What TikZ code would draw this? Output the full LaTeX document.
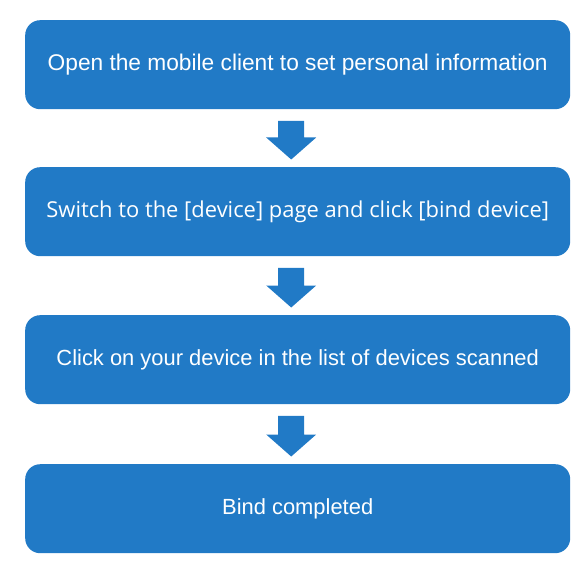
\documentclass[tikz,border=0pt]{standalone}
\usepackage{fontspec}
\setmainfont{Liberation Sans}
\newfontfamily\segoe{Open Sans}
\definecolor{boxblue}{RGB}{33,122,198}
\begin{document}
\begin{tikzpicture}[x=1bp,y=-1bp,
  stepbox/.style={fill=boxblue, draw=none, rounded corners=15bp,
    minimum width=545bp, minimum height=89bp, inner sep=0pt,
    text=white, font=\fontsize{22}{26}\selectfont, anchor=north west},
  blockarrow/.style={fill=boxblue, draw=none}]
\useasboundingbox (0,0) rectangle (588,577);
\node[stepbox, font=\fontsize{22.8}{26}\selectfont] (b1) at (25,20) {Open the mobile client to set personal information};
\node[stepbox, font=\segoe\fontsize{22}{26}\selectfont] (b2) at (25,167) {Switch to the [device] page and click [bind device]};
\node[stepbox] (b3) at (25,315) {Click on your device in the list of devices scanned};
\node[stepbox] (b4) at (25,464) {Bind completed};
\foreach \a/\b [count=\i] in {b1/b2,b2/b3,b3/b4}{
  \path (\a.south) ++(-6.5,11.5) coordinate (t\i);
  \path (\b.north) ++(-6.5,-7.5) coordinate (h\i);
  \fill[blockarrow] ([xshift=-13bp]t\i) -- ([xshift=13bp]t\i)
    -- ([xshift=13bp,yshift=22bp]h\i) -- ([xshift=25bp,yshift=22bp]h\i)
    -- (h\i) -- ([xshift=-25bp,yshift=22bp]h\i)
    -- ([xshift=-13bp,yshift=22bp]h\i) -- cycle;
}
\end{tikzpicture}
\end{document}
